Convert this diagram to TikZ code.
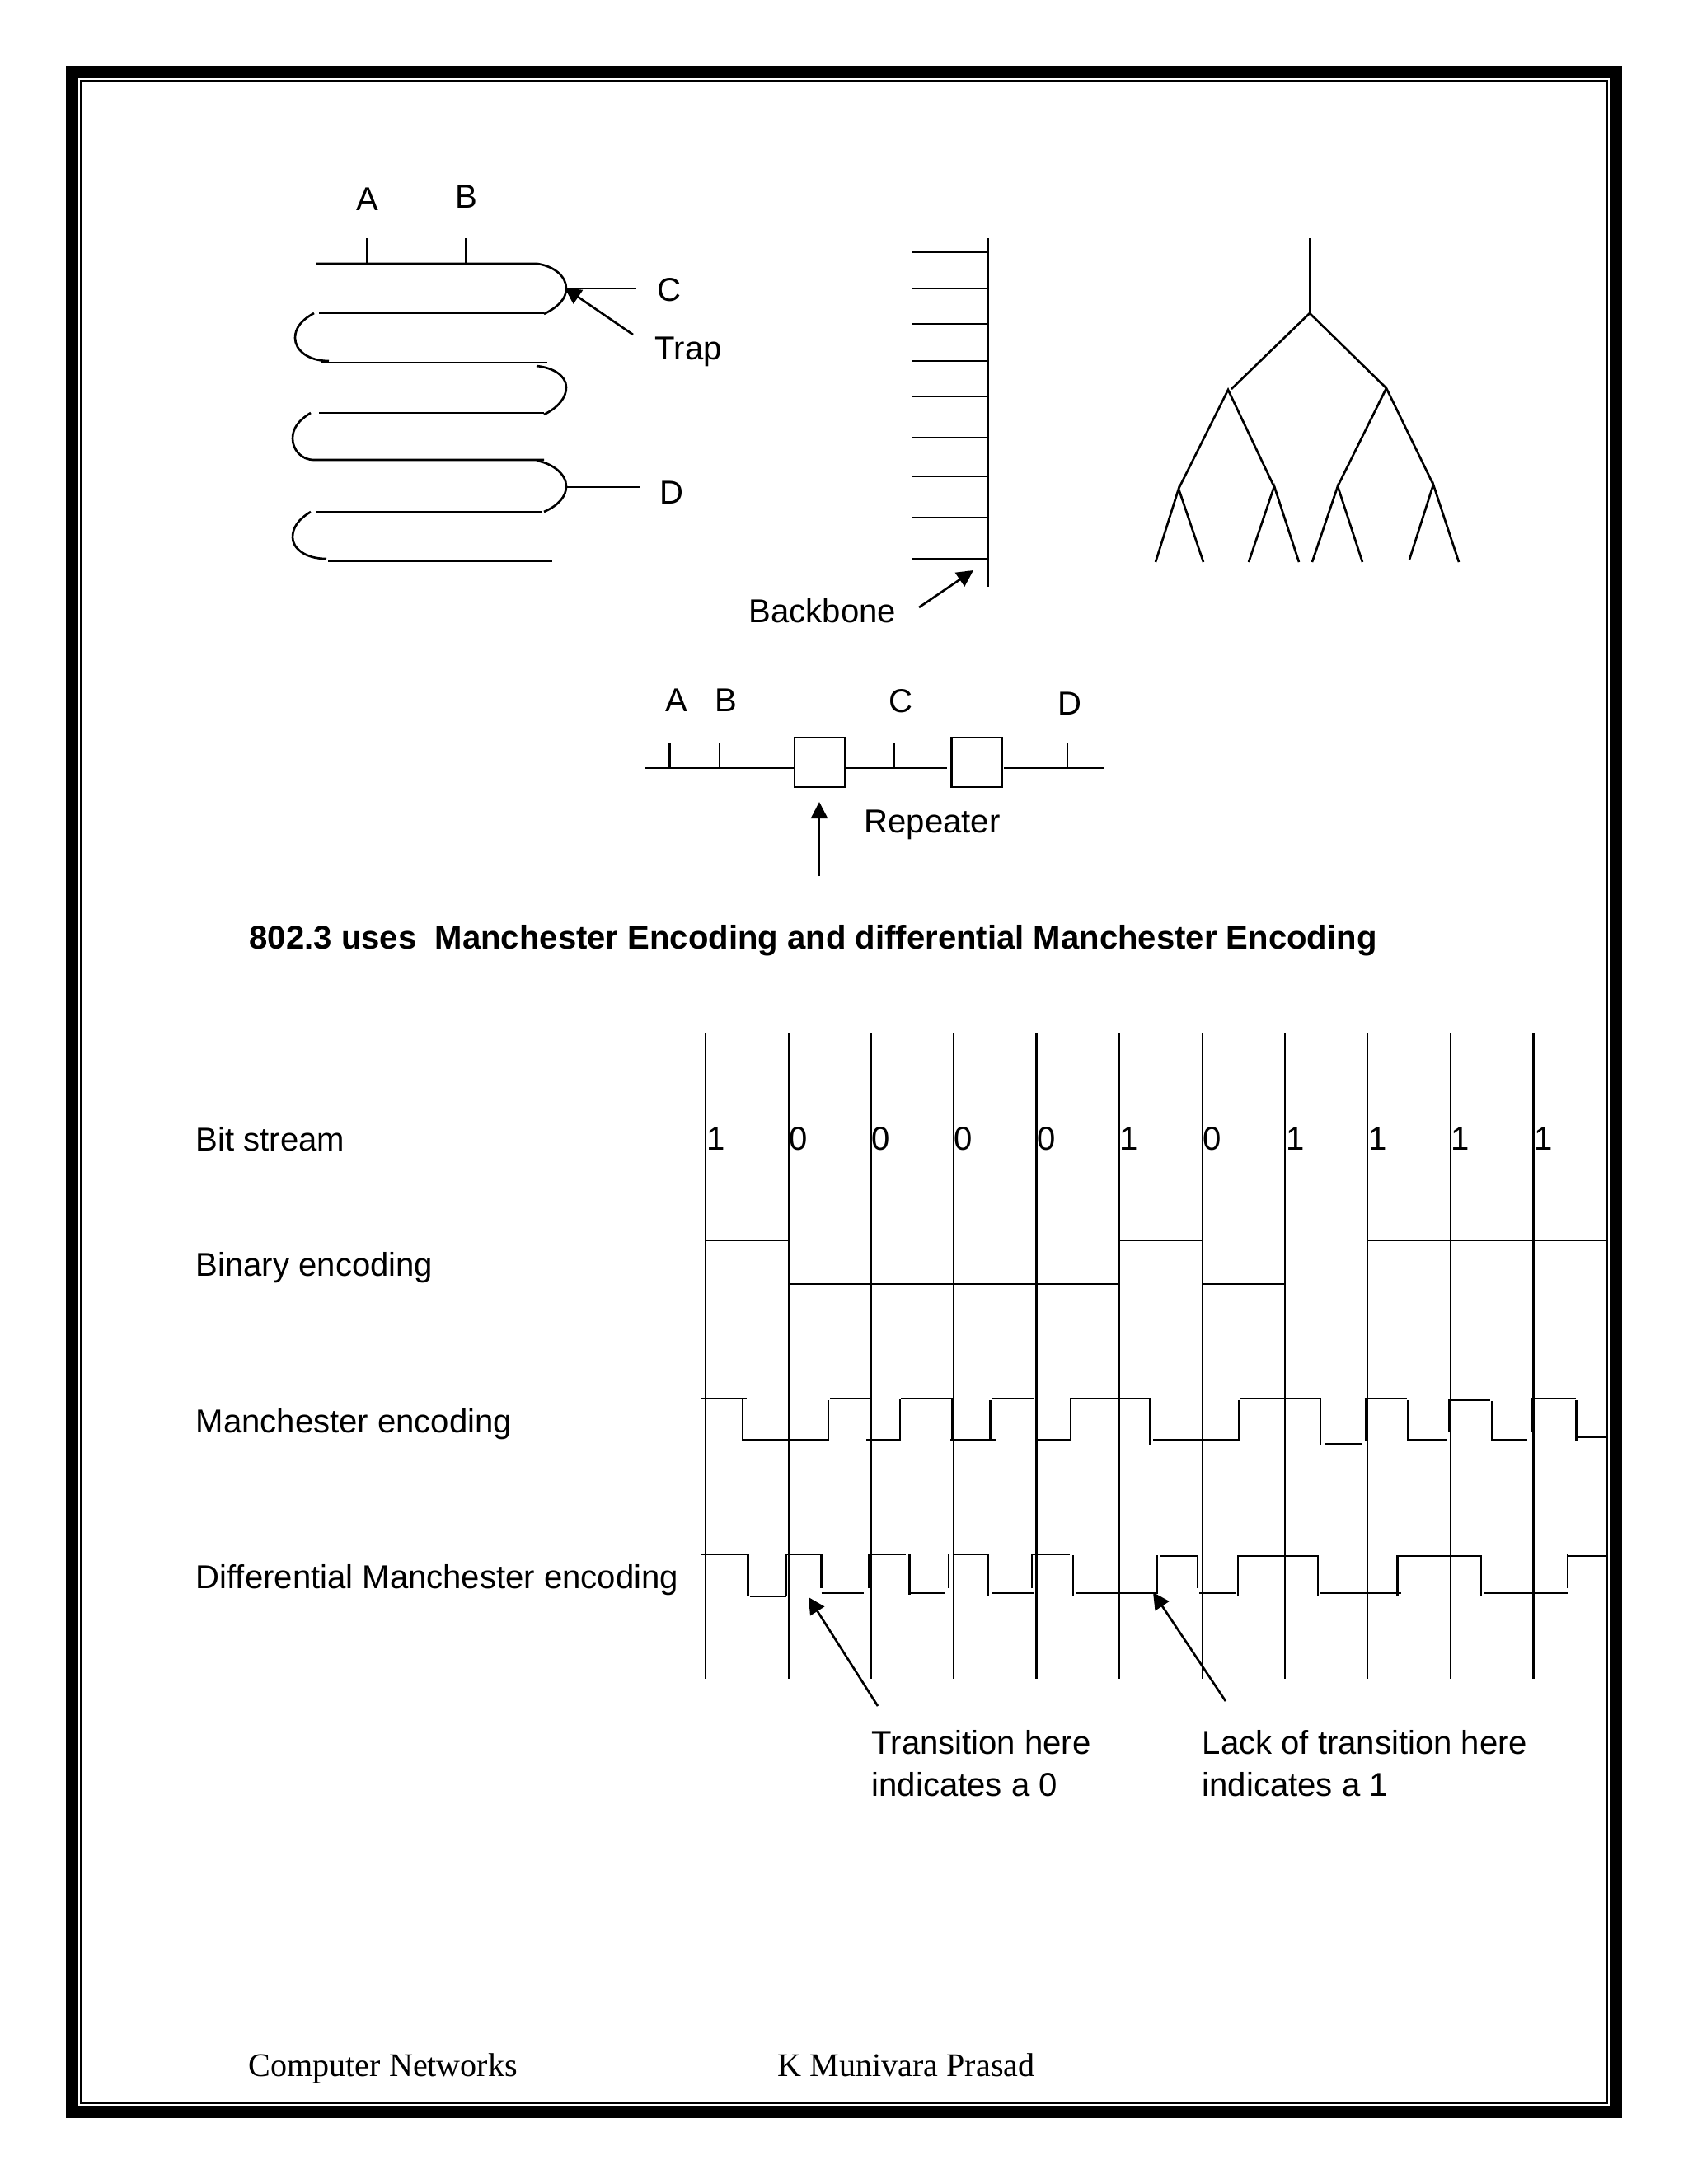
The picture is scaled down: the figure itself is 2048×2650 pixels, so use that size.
\documentclass[tikz,border=0pt]{standalone}
\usepackage{fontspec}
\setmainfont{Liberation Sans}
\newfontfamily\footfont{Liberation Serif}
\usetikzlibrary{arrows.meta,positioning}

\begin{document}
\begin{tikzpicture}[
  x=0.01cm,y=-0.01cm,
  wire/.style={line width=0.75pt},
  cell/.style={line width=0.6pt},
  pointer/.style={line width=0.75pt,-{Triangle[length=0.2cm,width=0.2cm]}},
  label/.style={font=\fontsize{11.4}{13}\selectfont,inner sep=0pt},
  leftlabel/.style={label,anchor=west},
  headline/.style={font=\fontsize{11.4}{13}\selectfont\bfseries,inner sep=0pt,anchor=west},
  footer/.style={font=\fontsize{11.4}{13}\selectfont\footfont,inner sep=0pt,anchor=west},
  repeater/.style={draw,line width=0.75pt,minimum width=0.61cm,minimum height=0.6cm,inner sep=0pt}]
\path[use as bounding box,fill=white] (0,0) rectangle (2048,2650);
% page frame
\draw[line width=15*0.01cm] (87.5,87.5) rectangle (1960,2562.5);
\draw[line width=0.7pt] (98,98) rectangle (1950,2552);
% folded cable
\draw[wire] (384,320) -- (652,320) .. controls (672,323) and (687,335) .. (687,350) .. controls (687,362) and (678,372) .. (660,381);
\draw[wire] (660,380) -- (387,380);
\draw[wire] (381,380) .. controls (366,388) and (358,398) .. (358,410) .. controls (358,425) and (374,438) .. (399,438);
\draw[wire] (390,440) -- (664,440);
\draw[wire] (651,444) .. controls (670,446) and (687,455) .. (687,470) .. controls (687,482) and (678,494) .. (660,503);
\draw[wire] (660,501) -- (387,501);
\draw[wire] (377,501) .. controls (362,510) and (355,520) .. (355,532) .. controls (355,545) and (365,558) .. (381,558) -- (660,558);
\draw[wire] (651,559) .. controls (670,562) and (687,575) .. (687,590) .. controls (687,602) and (678,613) .. (660,621);
\draw[wire] (657,621) -- (384,621);
\draw[wire] (377,621) .. controls (362,630) and (355,640) .. (355,652) .. controls (355,665) and (370,678) .. (396,678);
\draw[wire] (398,681) -- (670,681);
\draw[wire] (445,289) -- (445,320) (565,289) -- (565,320);
\node[label] (cableA) at (445.5,242) {A};
\node[label] (cableB) at (566,239) {B};
\node[label] (cableC) at (812,352) {C};
\node[leftlabel] (cableTrap) at (794,427) {Trap};
\node[label] (cableD) at (815,598) {D};
\coordinate (trapTip) at (685,349);
\coordinate (trapTail) at (768,406);
\coordinate (tapC) at (687,350);
\coordinate (tapD) at (687,591);
\draw[wire] (tapC) -- (772,350);
\draw[wire] (tapD) -- (777,591);
\draw[pointer] (trapTail) -- (trapTip);
% backbone
\draw[wire] (1198.5,289) -- (1198.5,712);
\draw[wire] (1107,306) -- (1198.5,306) (1107,350) -- (1198.5,350) (1107,393) -- (1198.5,393)
  (1107,438) -- (1198.5,438) (1107,481) -- (1198.5,481) (1107,531) -- (1198.5,531)
  (1107,578) -- (1198.5,578) (1107,628) -- (1198.5,628) (1107,678) -- (1198.5,678);
\node[leftlabel] (backboneLabel) at (908,741) {Backbone};
\coordinate (backboneTail) at (1115,737);
\coordinate (backboneTip) at (1181,692);
\draw[pointer] (backboneTail) -- (backboneTip);
% tree
\draw[wire] (1589,289) -- (1589,380);
\draw[wire] (1494,472) -- (1589,380) -- (1682,471);
\draw[wire] (1430,593) -- (1490,473) -- (1547,593);
\draw[wire] (1623,590) -- (1682,471) -- (1739,588);
\draw[wire] (1402,682) -- (1430,593) -- (1460,682);
\draw[wire] (1515,682) -- (1546,590) -- (1576,682);
\draw[wire] (1592,682) -- (1623,590) -- (1653,682);
\draw[wire] (1710,679) -- (1739,588) -- (1770,682);
% repeaters
\node[repeater] (repA) at (994.5,925) {};
\node[repeater] (repB) at (1185,925) {};
\coordinate (busStart) at (782,932);
\coordinate (busEnd) at (1340,932);
\draw[wire] (busStart) -- (repA.west |- busStart);
\draw[wire] (1027,932) -- (1149,932);
\draw[wire] (1218,932) -- (busEnd);
\draw[wire] (812.5,901) -- (812.5,932) (873,901) -- (873,932) (1084.5,901) -- (1084.5,932) (1295,901) -- (1295,932);
\node[label] (busA) at (821,850) {A};
\node[label] (busB) at (881,850) {B};
\node[label] (busC) at (1093,851) {C};
\node[label] (busD) at (1297.5,854) {D};
\node[leftlabel] (repLabel) at (1048,1001) {Repeater};
\coordinate (repTail) at (994,1063);
\coordinate (repTip) at (994,973);
\draw[pointer] (repTail) -- (repTip);
\node[headline] (heading) at (302,1141) {802.3 uses\ \ Manchester Encoding and differential Manchester Encoding};
% bit cells
\draw[cell] (856.4,1254) -- (856.4,2037) (956.8,1254) -- (956.8,2037) (1056.8,1254) -- (1056.8,2037)
  (1157,1254) -- (1157,2037) (1257.5,1254) -- (1257.5,2037) (1358,1254) -- (1358,2037)
  (1459,1254) -- (1459,2037) (1559.4,1254) -- (1559.4,2037) (1659.4,1254) -- (1659.4,2037)
  (1760,1254) -- (1760,2037) (1860.5,1254) -- (1860.5,2037);
\node[leftlabel] (bitLabel) at (237,1382) {Bit stream};
\node[leftlabel] (binLabel) at (237,1538) {Binary encoding};
\node[leftlabel] (manLabel) at (237,1728) {Manchester encoding};
\node[leftlabel] (difLabel) at (237,1917) {Differential Manchester encoding};
\node[leftlabel] (bitA) at (856.5,1382) {1};
\node[leftlabel] (bitB) at (957,1382) {0};
\node[leftlabel] (bitC) at (1057,1382) {0};
\node[leftlabel] (bitD) at (1157,1382) {0};
\node[leftlabel] (bitE) at (1258,1382) {0};
\node[leftlabel] (bitF) at (1358,1382) {1};
\node[leftlabel] (bitG) at (1459,1382) {0};
\node[leftlabel] (bitH) at (1560,1382) {1};
\node[leftlabel] (bitI) at (1660,1382) {1};
\node[leftlabel] (bitJ) at (1760,1382) {1};
\node[leftlabel] (bitK) at (1861,1382) {1};
% binary
\draw[wire] (856.4,1505) -- (957,1505) (957,1558) -- (1358,1558) (1358,1505) -- (1459,1505)
  (1459,1558) -- (1559,1558) (1660,1505) -- (1950,1505);
% manchester
\draw[wire] (850,1697) -- (906,1697) (901,1697) -- (901,1747) -- (1005,1747) -- (1005,1699)
  (1007,1697) -- (1056,1697) -- (1056,1746) (1051,1747) -- (1093,1747) (1092,1747) -- (1092,1698)
  (1093,1697) -- (1155.6,1697) -- (1155.6,1746) (1153,1747) -- (1208,1747) (1201.4,1747) -- (1201.4,1699)
  (1203,1697) -- (1255,1697) (1257,1747) -- (1299,1747) -- (1299,1697) -- (1395.5,1697) -- (1395.5,1753)
  (1399,1747) -- (1503,1747) -- (1503,1699) (1504,1697) -- (1602,1697) -- (1602,1753)
  (1608,1752) -- (1653,1752) (1657,1697) -- (1657,1748) (1655.6,1697) -- (1707,1697)
  (1708.4,1699) -- (1708.4,1747) -- (1755.6,1747) (1758.6,1697) -- (1758.6,1738)
  (1757,1699) -- (1808,1699) (1810.7,1700) -- (1810.7,1747) (1809,1747) -- (1852.5,1747)
  (1858,1738) -- (1858,1697) -- (1911.5,1697) (1912.7,1699) -- (1912.7,1748)
  (1912.7,1744) -- (1950,1744);
% differential manchester
\draw[wire] (850,1886) -- (906,1886) (907.4,1886) -- (907.4,1936) (910,1937) -- (953.6,1937)
  (953.6,1937) -- (953.6,1887) (953,1886) -- (996.3,1886) -- (996.3,1927)
  (996.7,1933) -- (1048,1933) (1054,1886) -- (1054,1927) (1053,1886) -- (1099.4,1886)
  (1103.4,1886) -- (1103.4,1935) (1103.4,1933) -- (1147,1933) (1151,1886) -- (1151,1927)
  (1156,1886) -- (1200,1886) (1199,1886) -- (1199,1937) (1203.4,1933) -- (1255,1933)
  (1252,1927) -- (1252,1886) -- (1297.5,1886) (1302,1887) -- (1302,1937)
  (1305,1933) -- (1404,1933) -- (1404,1887) (1407,1888) -- (1452,1888) (1453,1887) -- (1453,1927)
  (1455,1933) -- (1499,1933) (1502,1937) -- (1502,1888) -- (1599,1888) -- (1599,1937)
  (1602,1933) -- (1700,1933) (1695.4,1937) -- (1695.4,1888) -- (1797,1888) -- (1797,1937)
  (1801,1933) -- (1903,1933) (1902,1927) -- (1902,1886) (1902,1888) -- (1950,1888);
\coordinate (zeroTail) at (1065,2070);
\coordinate (zeroTip) at (981,1938);
\coordinate (oneTail) at (1487,2064);
\coordinate (oneTip) at (1399,1932);
\draw[pointer] (zeroTail) -- (zeroTip);
\draw[pointer] (oneTail) -- (oneTip);
\node[leftlabel] (zeroNoteA) at (1057,2114) {Transition here};
\node[leftlabel] (zeroNoteB) at (1057,2165) {indicates a 0};
\node[leftlabel] (oneNoteA) at (1458,2114) {Lack of transition here};
\node[leftlabel] (oneNoteB) at (1458,2165) {indicates a 1};
\node[footer] (footA) at (301,2510) {Computer Networks};
\node[footer] (footB) at (943,2506) {K Munivara Prasad};
\end{tikzpicture}
\end{document}
